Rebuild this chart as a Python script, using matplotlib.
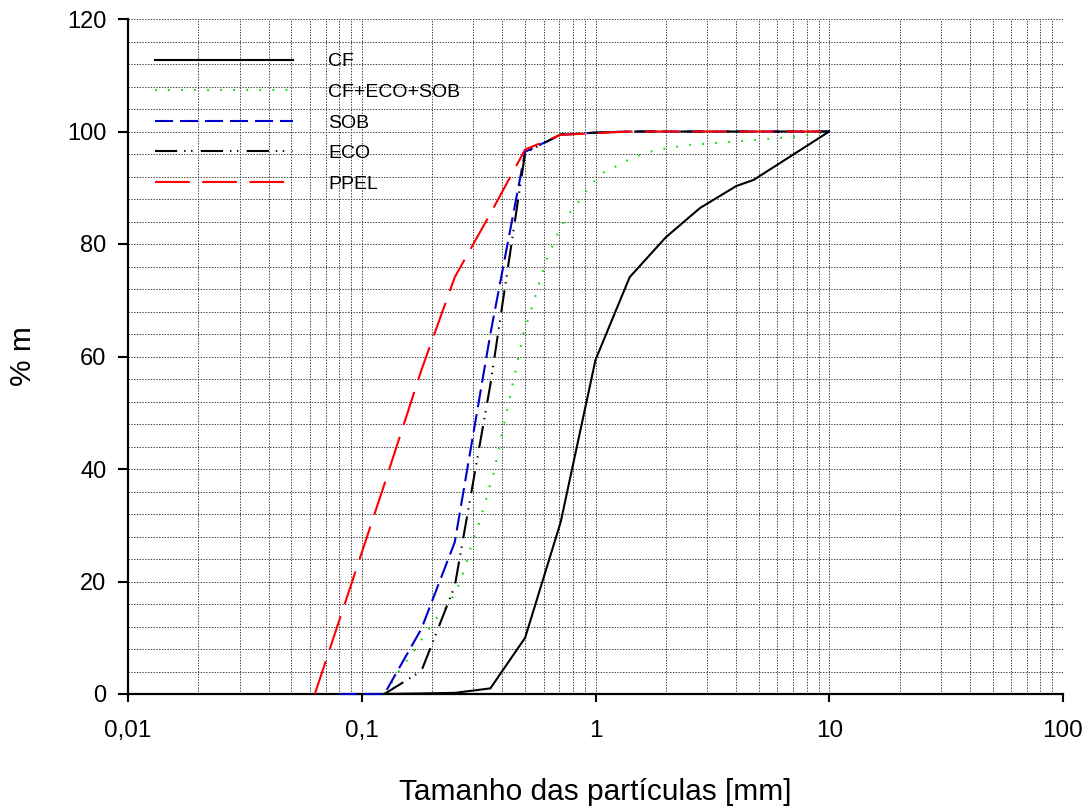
import matplotlib
matplotlib.use("Agg")
import matplotlib.pyplot as plt
from matplotlib.ticker import FixedLocator, MultipleLocator, LogLocator, FuncFormatter, NullFormatter

plt.rcParams['font.family'] = ['Liberation Sans', 'DejaVu Sans']
plt.rcParams['lines.scale_dashes'] = False

# ---- data ----
cf_x = [0.09, 0.125, 0.25, 0.355, 0.5, 0.71, 1.0, 1.4, 2.0, 2.8, 4.0, 4.75, 10.0]
cf_y = [0, 0, 0.2, 1.0, 10.0, 30.6, 59.4, 74.1, 81.2, 86.4, 90.3, 91.4, 100]

mix_x = [0.125, 0.144, 0.164, 0.184, 0.206, 0.231, 0.255, 0.277, 0.296, 0.321, 0.343,
         0.366, 0.385, 0.404, 0.425, 0.446, 0.492, 0.552, 0.609, 0.690, 0.754, 0.846,
         0.943, 1.07, 1.25, 1.45, 1.71, 2.0, 2.5, 3.36, 4.51, 5.87, 7.39, 10.0]
mix_y = [0, 4, 7.2, 10.2, 13.2, 15.5, 18.5, 22.6, 26.8, 30.9, 35.1,
         39.2, 43.4, 47.5, 51.7, 55.8, 64.1, 70.6, 76.6, 81.9, 84.9, 87.5,
         90.3, 92.6, 94.0, 95.4, 96.4, 97.0, 97.6, 98.0, 98.4, 98.8, 99.1, 100]

sob_x = [0.08, 0.125, 0.18, 0.25, 0.355, 0.5, 0.71, 1.0, 1.4, 2.0, 10.0]
sob_y = [0, 0, 11.6, 27.0, 64.0, 96.4, 99.4, 99.8, 100, 100, 100]

eco_x = [0.125, 0.18, 0.25, 0.355, 0.5, 0.71, 1.0, 1.4, 2.0, 10.0]
eco_y = [0, 4.1, 19.2, 55.0, 96.2, 99.5, 99.8, 100, 100, 100]

ppel_x = [0.063, 0.09, 0.125, 0.18, 0.25, 0.355, 0.5, 0.71, 1.0, 1.4, 2.0, 10.0]
ppel_y = [0, 19.4, 37.3, 57.6, 74.1, 85.4, 96.8, 99.4, 99.7, 100, 100, 100]

labels = ['CF', 'CF+ECO+SOB', 'SOB', 'ECO', 'PPEL']
x_ticks = [0.01, 0.1, 1, 10, 100]
x_tick_labels = ['0,01', '0,1', '1', '10', '100']
y_ticks = [0, 20, 40, 60, 80, 100, 120]

# ---- figure ----
fig = plt.figure(figsize=(10.9, 8.09), dpi=100)
ax = fig.add_axes([128 / 1090, 115 / 809, 935 / 1090, 675 / 809])

ax.set_xscale('log')
ax.set_xlim(0.01, 100)
ax.set_ylim(0, 120)

lw = 1.5
ax.plot(cf_x, cf_y, color='black', lw=lw, ls='-', label=labels[0], clip_on=False, zorder=5)
ax.plot(mix_x, mix_y, color='#00dd00', lw=lw, ls=(0, (1.2, 8.2)), label=labels[1], clip_on=False, zorder=5)
ax.plot(sob_x, sob_y, color='#0000cc', lw=lw, ls=(0, (13, 5)), label=labels[2], clip_on=False, zorder=5)
ax.plot(eco_x, eco_y, color='black', lw=lw, ls=(0, (16, 5, 1, 4, 1, 6)), label=labels[3], clip_on=False, zorder=5)
ax.plot(ppel_x, ppel_y, color='#ff0000', lw=lw, ls=(0, (25, 9)), label=labels[4], clip_on=False, zorder=6)

# ticks and grid
ax.xaxis.set_major_locator(FixedLocator(x_ticks))
ax.xaxis.set_major_formatter(FuncFormatter(lambda v, p: x_tick_labels[x_ticks.index(min(x_ticks, key=lambda t: abs(t - v)))]))
ax.xaxis.set_minor_locator(LogLocator(base=10, subs=[2, 3, 4, 5, 6, 7, 8, 9], numticks=20))
ax.xaxis.set_minor_formatter(NullFormatter())
ax.yaxis.set_major_locator(FixedLocator(y_ticks))
ax.yaxis.set_minor_locator(MultipleLocator(4))

grid_kw = dict(color='#404040', lw=0.7, ls=(0, (1, 1)))
ax.grid(True, which='both', axis='both', **grid_kw)
ax.set_axisbelow(True)

ax.tick_params(axis='y', which='major', direction='out', length=7.5, width=1.5,
               labelsize=17, color='black', pad=8)
ax.tick_params(axis='x', which='major', direction='out', length=6, width=1.5,
               labelsize=17.5, color='black', pad=13)
ax.tick_params(axis='both', which='minor', length=0)

for s in ['top', 'right']:
    ax.spines[s].set_visible(False)
for s in ['left', 'bottom']:
    ax.spines[s].set_linewidth(1.6)
    ax.spines[s].set_zorder(4)

ax.set_xlabel('Tamanho das partículas [mm]', fontsize=21.5)
ax.set_ylabel('% m', fontsize=21.5)
ax.xaxis.set_label_coords(0.5, -0.125)
ax.yaxis.set_label_coords(-0.097, 0.5)

ax.legend(loc='upper left', bbox_to_anchor=(0.0289, 0.950), frameon=False,
          fontsize=14, handlelength=7.1, handletextpad=1.8, labelspacing=0.67,
          borderpad=0, borderaxespad=0)

fig.savefig('out.png', dpi=100)
